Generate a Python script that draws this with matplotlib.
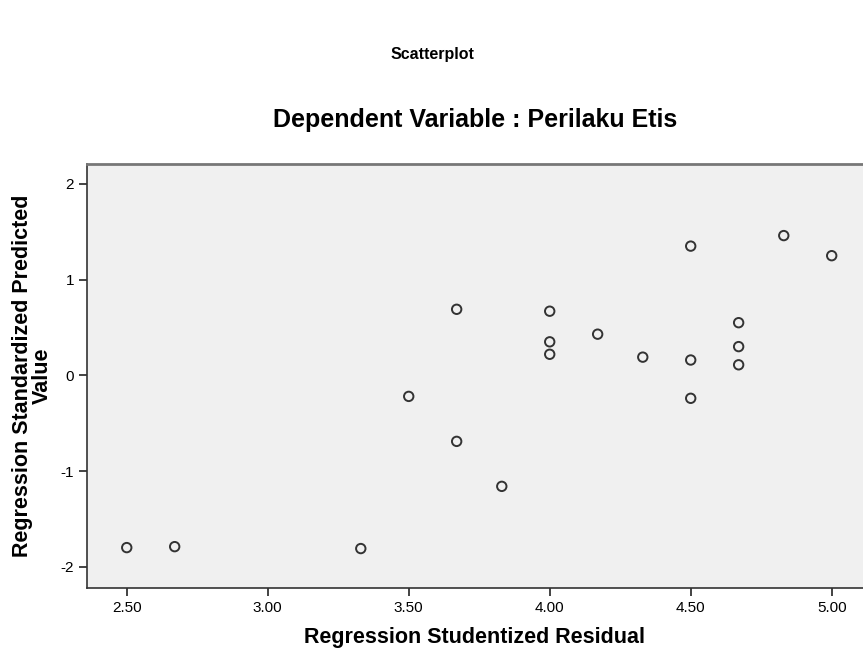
import matplotlib
matplotlib.use("Agg")
import matplotlib.pyplot as plt

# SPSS residual scatterplot
resid = [2.50, 2.67, 3.33, 3.50, 3.67, 3.67, 3.83, 4.00, 4.00, 4.00,
         4.17, 4.33, 4.50, 4.50, 4.50, 4.67, 4.67, 4.67, 4.83, 5.00]
pred = [-1.80, -1.79, -1.81, -0.22, 0.69, -0.69, -1.16, 0.67, 0.35, 0.22,
        0.43, 0.19, 1.35, 0.16, -0.24, 0.55, 0.30, 0.11, 1.46, 1.25]
xticks = [2.50, 3.00, 3.50, 4.00, 4.50, 5.00]
yticks = [-2, -1, 0, 1, 2]

plt.rcParams["font.family"] = ["Liberation Sans", "DejaVu Sans"]

fig = plt.figure(figsize=(8.63, 6.54), dpi=100)
ax = fig.add_axes([86.7 / 863, 1 - 588 / 654, 1 - 86.7 / 863, (588 - 164) / 654])
ax.set_facecolor("#f0f0f0")
ax.scatter(resid, pred, s=46, facecolors="none", edgecolors="#333333", linewidths=1.4, zorder=3)

ax.set_xlim(2.358, 5.111)
ax.set_ylim(-2.222, 2.208)
ax.set_xticks(xticks)
ax.set_xticklabels([f"{v:.2f}" for v in xticks], fontsize=11)
ax.set_yticks(yticks)
ax.set_yticklabels([str(v) for v in yticks], fontsize=11)
ax.tick_params(direction="out", length=6, width=1.2, color="#222222", pad=3)
for s in ["left", "bottom", "top"]:
    ax.spines[s].set_color("#333333")
    ax.spines[s].set_linewidth(1.2)
ax.spines["top"].set_color("#777777")
ax.spines["top"].set_linewidth(2)
ax.spines["right"].set_visible(False)

ax.set_xlabel("Regression Studentized Residual", fontsize=15.5, fontweight="bold", labelpad=9)
ax.set_ylabel("Regression Standardized Predicted\nValue", fontsize=15.5, fontweight="bold",
              labelpad=6, linespacing=0.92)
ax.set_title("Dependent Variable : Perilaku Etis", fontsize=18, fontweight="bold", pad=27)
fig.text(432 / 863, 1 - 55 / 654, "Scatterplot", ha="center", va="center",
         fontsize=11.5, fontweight="bold")

fig.savefig("out.png", dpi=100)
